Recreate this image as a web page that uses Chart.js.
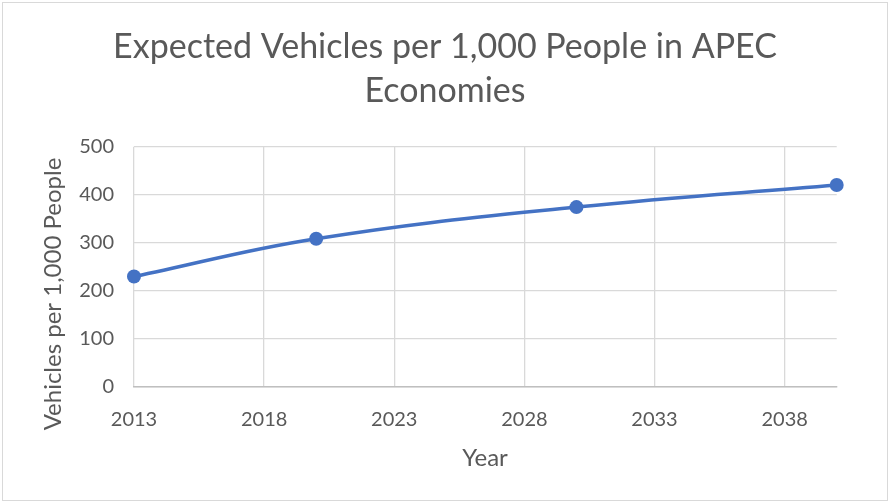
<!DOCTYPE html>
<html>
<head>
<meta charset="utf-8">
<title>Expected Vehicles per 1,000 People in APEC Economies</title>
<script src="https://cdn.jsdelivr.net/npm/chart.js@4.4.1/dist/chart.umd.min.js"></script>
<style>
  html, body { margin: 0; padding: 0; background: #ffffff; }
  canvas { display: block; }
</style>
</head>
<body>
<canvas id="chart" width="890" height="503"></canvas>
<script>
// Projected vehicle ownership (vehicles per 1,000 people)
const years = [2013, 2020, 2030, 2040];
const vehicles = [229, 308, 374, 420];
const xTickValues = [2013, 2018, 2023, 2028, 2033, 2038];
const titleLines = ['Expected Vehicles per 1,000 People in APEC', 'Economies'];
const xAxisTitle = 'Year';
const yAxisTitle = 'Vehicles per 1,000 People';

const TEXT = '#595959';
const FONT = 'Lato, "Open Sans", sans-serif';

// Chart frame, main title and axis titles
const decorations = {
  id: 'decorations',
  beforeDraw(chart) {
    const ctx = chart.ctx;
    ctx.save();
    ctx.fillStyle = '#ffffff';
    ctx.fillRect(0, 0, chart.width, chart.height);
    ctx.strokeStyle = '#d9d9d9';
    ctx.lineWidth = 1;
    ctx.strokeRect(2.5, 2.5, 885, 498);
    ctx.restore();
  },
  afterDraw(chart) {
    const ctx = chart.ctx;
    ctx.save();
    ctx.fillStyle = TEXT;
    ctx.textAlign = 'center';
    ctx.textBaseline = 'alphabetic';
    ctx.font = '34px ' + FONT;
    ctx.fillText(titleLines[0], 445, 58);
    ctx.fillText(titleLines[1], 445, 102);

    ctx.font = '24px ' + FONT;
    ctx.fillText(xAxisTitle, 485, 466);

    ctx.translate(53, 294);
    ctx.rotate(-Math.PI / 2);
    ctx.textBaseline = 'middle';
    ctx.fillText(yAxisTitle, 0, 0);
    ctx.restore();
  }
};

new Chart(document.getElementById('chart'), {
  type: 'line',
  data: {
    datasets: [{
      data: years.map((y, i) => ({ x: y, y: vehicles[i] })),
      borderColor: '#4472C4',
      backgroundColor: '#4472C4',
      borderWidth: 3.5,
      pointRadius: 7,
      pointHoverRadius: 7,
      pointBorderWidth: 0,
      tension: 0.4,
      fill: false,
      clip: false
    }]
  },
  options: {
    responsive: false,
    animation: false,
    events: [],
    layout: { padding: { left: 74, top: 146.7, right: 53.3, bottom: 56.7 } },
    plugins: { legend: { display: false }, tooltip: { enabled: false }, title: { display: false } },
    scales: {
      x: {
        type: 'linear',
        min: 2013,
        max: 2040,
        afterBuildTicks(scale) { scale.ticks = xTickValues.map(v => ({ value: v })); },
        afterFit(scale) { scale.height = 60; },
        grid: { color: '#d9d9d9', lineWidth: 1.3, drawTicks: false },
        border: { display: true, color: '#bfbfbf', width: 1.5 },
        ticks: {
          color: TEXT,
          font: { family: FONT, size: 20 },
          padding: 21,
          maxRotation: 0,
          autoSkip: false,
          callback: v => String(v)
        }
      },
      y: {
        min: 0,
        max: 500,
        afterFit(scale) { scale.width = 60; },
        grid: { color: '#d9d9d9', lineWidth: 1.3, drawTicks: false },
        border: { display: false },
        ticks: {
          stepSize: 100,
          color: TEXT,
          font: { family: FONT, size: 20 },
          padding: 20
        }
      }
    }
  },
  plugins: [decorations]
});
</script>
</body>
</html>
